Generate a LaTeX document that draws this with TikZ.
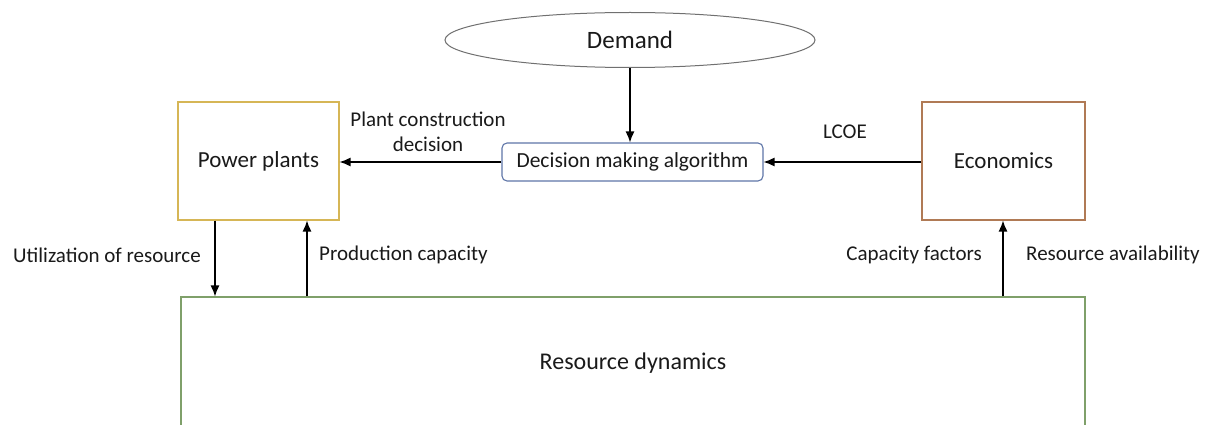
\documentclass[tikz,border=0pt]{standalone}
\usepackage{fontspec}
\setmainfont{Carlito}
\usetikzlibrary{shapes.geometric,arrows.meta}
\definecolor{ppcol}{HTML}{D6B656}
\definecolor{ecocol}{HTML}{B07A55}
\definecolor{rescol}{HTML}{7FA06A}
\definecolor{deccol}{HTML}{5F76A8}
\definecolor{ellcol}{HTML}{707070}
\definecolor{txt}{HTML}{1A1A1A}
\tikzset{
  box/.style={draw, line width=1.1pt, minimum width=#1, inner sep=0pt, text=txt, font=\fontsize{23}{27}\selectfont},
  lbl/.style={inner sep=0pt, text=txt, font=\fontsize{21}{25}\selectfont, align=center},
  conn/.style={line width=1.3pt, -{Latex[length=11pt,width=9pt]}}
}
\begin{document}
\begin{tikzpicture}[x=1pt,y=-1pt]
\useasboundingbox (0,0) rectangle (1208,425);
\clip (0,0) rectangle (1208,425);
\fill[white] (0,0) rectangle (1208,425);
\node[ellipse, draw=ellcol, line width=1pt, minimum width=370pt, minimum height=55pt, inner sep=0pt, text=txt, font=\fontsize{25}{29}\selectfont] (demand) at (630,40) {Demand};
\node[box=261pt, draw=deccol, rounded corners=5pt, minimum height=38pt, font=\fontsize{21.5}{25}\selectfont] (dec) at (632.5,162) {Decision making algorithm};
\node[box=161pt, draw=ppcol, minimum height=118pt] (pp) at (258.5,161) {Power plants};
\node[box=163pt, draw=ecocol, minimum height=118pt] (eco) at (1003.5,161) {Economics};
\node[box=904pt, draw=rescol, minimum height=132pt, font=\fontsize{24}{28}\selectfont] (res) at (633,363) {Resource dynamics};
\coordinate (cu) at (215,0);
\coordinate (cp) at (307,0);
\coordinate (ce) at (1003,0);
\coordinate (cd) at (630,0);
\draw[conn] (demand.south -| cd) -- (dec.north -| cd);
\draw[conn] (dec.west) -- (dec.west -| pp.east);
\draw[conn] (eco.west |- dec.east) -- (dec.east);
\draw[conn] (pp.south -| cu) -- (res.north -| cu);
\draw[conn] (res.north -| cp) -- (pp.south -| cp);
\draw[conn] (res.north -| ce) -- (eco.south -| ce);
\node[lbl] (lpc) at (428,132) {Plant construction\\decision};
\node[lbl] (llcoe) at (845,132) {LCOE};
\node[lbl, anchor=east] (lut) at (201,255) {Utilization of resource};
\node[lbl, anchor=west] (lprod) at (319,255) {Production capacity};
\node[lbl, anchor=east] (lcap) at (982,255) {Capacity factors};
\node[lbl, anchor=west] (lavail) at (1026,255) {Resource availability};
\end{tikzpicture}
\end{document}
